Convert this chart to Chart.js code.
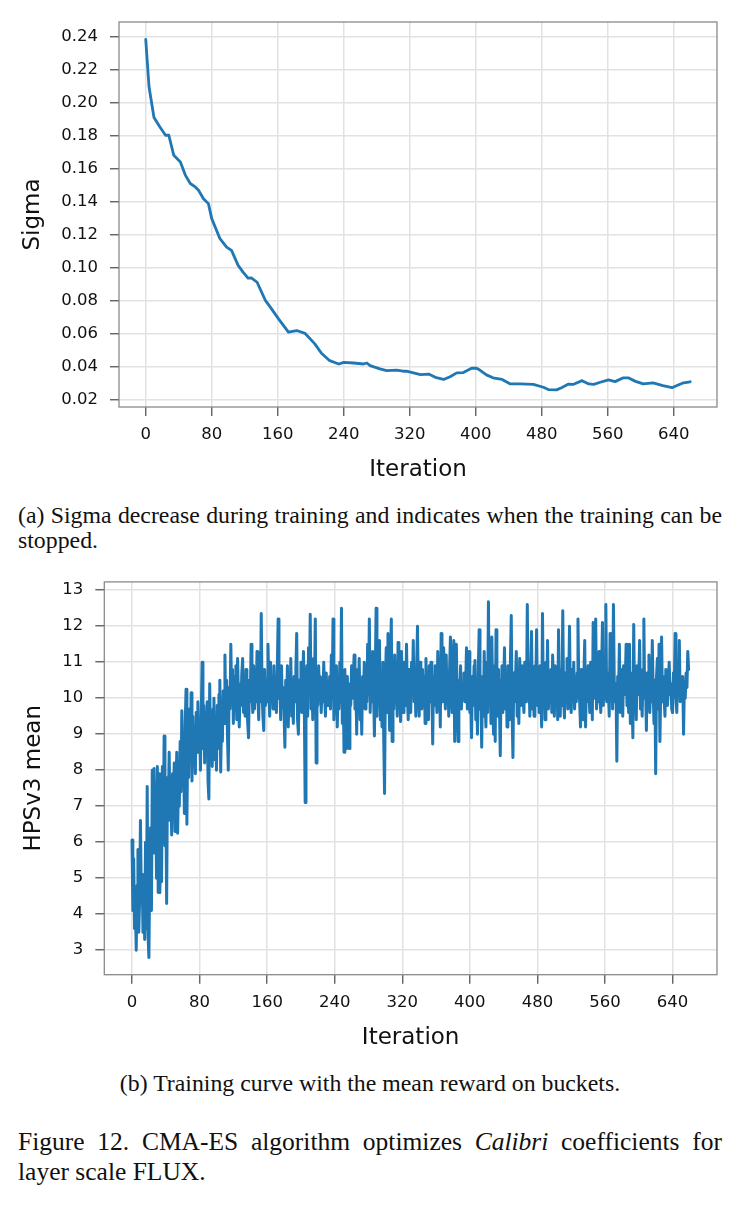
<!DOCTYPE html>
<html>
<head>
<meta charset="utf-8">
<script src="https://cdn.jsdelivr.net/npm/chart.js@4.4.1/dist/chart.umd.min.js"></script>
<style>
  html, body { margin:0; padding:0; background:#fff; }
  body { width:740px; height:1205px; position:relative; overflow:hidden; }
  canvas { position:absolute; left:0; }
  .cap { position:absolute; font-family:"Liberation Serif","Times New Roman",serif; color:#111; white-space:nowrap; }
  .just { text-align:justify; text-align-last:justify; }
</style>
</head>
<body>
<canvas id="c1" width="740" height="495" style="top:0px"></canvas>
<canvas id="c2" width="740" height="500" style="top:560px"></canvas>

<div class="cap just" style="left:18px; top:501px; width:704px; font-size:23.8px; line-height:28px;">(a) Sigma decrease during training and indicates when the training can be</div>
<div class="cap" style="left:18px; top:526px; font-size:23.8px; line-height:28px;">stopped.</div>
<div class="cap" style="left:0px; width:740px; text-align:center; top:1069px; font-size:23.8px; line-height:28px;">(b) Training curve with the mean reward on buckets.</div>
<div class="cap just" style="left:18px; top:1127px; width:704px; font-size:25.5px; line-height:30px;">Figure 12. CMA-ES algorithm optimizes <i>Calibri</i> coefficients for</div>
<div class="cap" style="left:18px; top:1157px; font-size:25.5px; line-height:30px;">layer scale FLUX.</div>

<script>
// ---------- data ----------
const iterTicks = [0, 80, 160, 240, 320, 400, 480, 560, 640];
const sigmaTicks = [0.02, 0.04, 0.06, 0.08, 0.10, 0.12, 0.14, 0.16, 0.18, 0.20, 0.22, 0.24];
const hpsTicks = [3, 4, 5, 6, 7, 8, 9, 10, 11, 12, 13];

const sigmaIter = [0,4,10,17,24,28,34,42,48,54,60,64,70,76,80,90,98,104,112,118,124,128,135,145,151,161,173,183,193,205,213,223,234,240,252,264,268,272,284,292,304,312,316,333,343,351,361,369,377,385,395,401,405,413,421,432,442,454,470,482,488,498,504,512,518,529,537,543,551,561,569,579,585,593,603,615,627,638,644,652,660];
const sigmaValues = [0.2384,0.2096,0.191,0.1853,0.1802,0.1802,0.168,0.164,0.156,0.1509,0.1488,0.1468,0.1417,0.1387,0.1296,0.1174,0.1123,0.1103,0.1012,0.0971,0.0935,0.0937,0.091,0.080,0.0759,0.0688,0.0607,0.0617,0.060,0.0536,0.0479,0.0434,0.0414,0.0424,0.042,0.0414,0.042,0.0404,0.0384,0.0374,0.0377,0.037,0.037,0.035,0.0353,0.0333,0.032,0.0337,0.036,0.0362,0.0388,0.0388,0.0377,0.0348,0.033,0.032,0.0293,0.0293,0.029,0.0273,0.0259,0.0257,0.027,0.0291,0.029,0.0313,0.0293,0.029,0.0303,0.0318,0.0307,0.033,0.033,0.031,0.0293,0.0299,0.0283,0.027,0.0283,0.030,0.0306];

// HPSv3 mean per iteration (0..659)
const hpsValues = [
6.06,4.1,5.55,3.6,4.2,3.0,4.8,5.8,3.5,4.4,6.6,4.5,5.1,3.5,5.0,3.3,6.0,3.6,7.55,3.4,
2.8,5.2,6.4,4.1,8.0,5.7,8.05,6.2,7.6,5.0,8.1,4.6,7.9,4.6,7.0,4.9,8.1,6.0,8.95,5.9,
7.6,4.3,7.8,6.9,8.5,6.6,7.4,6.2,7.9,6.8,8.2,6.3,7.5,8.5,6.25,7.7,7.0,8.8,7.4,9.65,
7.9,8.9,6.8,9.3,10.25,6.5,9.0,7.8,9.7,8.3,10.15,7.7,9.5,8.2,9.0,7.9,9.6,8.5,9.9,8.8,
9.3,8.0,9.5,11.0,8.6,9.8,8.2,9.6,8.9,9.9,7.7,7.2,10.4,8.4,9.5,8.1,9.7,10.0,8.3,9.2,
8.0,9.8,8.6,10.1,10.5,7.95,9.4,8.8,10.2,9.3,11.2,9.6,10.5,9.0,8.0,10.3,9.7,11.5,9.9,10.8,
9.3,10.6,9.7,10.9,9.4,11.1,10.0,9.2,10.4,9.8,10.7,11.1,9.6,10.3,9.5,10.8,10.0,9.3,8.9,10.5,
9.9,11.5,10.2,9.6,10.9,9.7,10.4,9.9,11.3,10.1,9.4,10.6,9.9,12.35,10.2,9.5,9.1,10.8,9.8,10.5,
9.9,11.5,10.3,9.5,11.0,10.0,10.6,9.7,10.9,9.9,10.4,9.6,10.8,12.2,10.0,10.6,9.4,10.9,9.8,10.3,
9.6,8.64,10.5,9.7,10.9,9.2,10.4,9.8,11.1,9.5,10.2,9.3,10.6,9.9,10.8,11.8,9.4,9.0,10.5,9.9,
11.0,9.6,10.3,11.3,9.8,7.1,10.2,10.9,9.5,11.4,10.1,12.33,9.7,10.6,9.4,11.1,10.2,12.2,8.2,10.5,
9.8,10.9,10.1,10.6,9.6,10.3,9.9,11.0,10.2,9.5,10.7,9.8,10.4,9.9,10.6,9.7,11.2,10.0,12.2,9.4,
10.5,9.6,10.9,9.2,10.3,9.7,11.0,9.9,12.5,9.3,10.4,8.5,10.8,9.5,8.6,10.6,9.0,8.6,10.4,9.8,
10.9,10.0,10.6,11.2,9.7,10.5,9.0,10.8,10.1,11.1,9.4,10.3,9.0,10.6,10.0,11.0,9.7,10.4,9.9,11.5,
10.1,12.2,9.6,10.8,9.9,11.3,10.2,8.95,10.7,12.5,9.5,10.9,10.0,11.6,9.4,10.6,9.2,11.0,8.9,7.35,
10.5,11.4,9.6,11.8,10.3,9.1,11.0,12.2,8.8,10.6,9.7,11.2,10.0,10.7,9.5,11.55,9.9,10.4,9.35,11.3,
10.2,9.6,11.0,10.5,9.8,11.5,10.1,9.4,10.8,10.3,9.6,11.0,10.2,11.6,9.9,10.6,9.5,10.9,12.0,10.2,
9.5,11.0,10.4,9.7,10.8,10.1,10.6,9.3,11.1,10.0,10.5,9.4,10.9,9.9,11.0,10.3,8.73,10.6,9.8,10.9,
10.2,9.6,11.3,10.0,10.5,9.2,11.8,10.1,9.9,11.4,10.4,9.7,11.2,10.0,10.6,9.5,10.8,11.7,10.2,9.6,
11.0,11.6,8.8,10.7,11.5,9.8,8.8,10.5,10.0,10.9,9.7,10.4,10.1,10.7,9.9,10.3,11.4,9.7,10.5,11.3,
9.6,10.2,8.9,10.6,9.8,10.9,11.05,9.4,10.3,9.0,10.8,11.9,9.7,10.4,8.64,10.6,9.5,11.3,10.0,9.2,
11.0,9.6,12.68,9.9,10.7,9.3,11.7,10.1,9.0,10.9,8.8,11.9,10.2,9.5,10.8,9.8,8.4,10.5,10.9,9.6,
10.3,11.4,9.7,10.6,9.2,10.9,10.0,9.4,11.0,12.3,9.6,8.35,10.7,9.9,10.5,11.3,9.5,10.2,9.3,11.1,
10.4,9.8,10.9,10.1,9.6,11.0,10.3,9.9,12.6,10.0,10.6,9.5,10.8,11.85,9.7,10.3,9.5,10.9,10.2,11.9,
9.8,10.5,9.6,10.9,10.0,9.2,12.35,9.9,10.6,9.4,11.0,10.2,11.6,9.7,10.5,10.1,10.8,9.6,11.2,10.3,
9.5,10.9,10.0,10.6,9.4,11.9,10.2,9.5,10.8,9.8,12.43,10.0,9.45,10.7,10.2,11.1,9.7,10.5,12.0,9.9,
9.6,10.8,10.1,11.0,9.7,10.4,9.9,10.7,12.2,10.3,9.9,9.2,10.8,10.1,9.4,10.6,11.6,9.2,10.5,9.9,
10.9,10.2,9.6,11.0,10.3,9.4,12.1,10.0,10.6,12.2,9.7,10.4,9.9,11.3,10.1,9.6,10.8,12.1,9.8,10.5,
10.0,12.6,9.9,10.7,10.2,9.5,11.8,10.0,10.6,9.7,12.6,10.3,9.9,10.4,8.25,10.6,10.0,11.5,9.6,10.8,
10.2,9.5,10.9,10.1,10.5,11.5,9.8,10.4,9.6,11.5,9.3,10.7,10.0,8.9,12.05,9.8,10.5,9.4,10.9,10.1,
10.6,11.6,9.7,10.3,9.5,10.8,12.2,10.0,10.4,9.1,10.7,10.1,11.2,9.6,10.4,9.9,11.6,10.2,9.3,10.5,
7.9,10.6,11.1,9.7,11.5,8.8,10.3,11.7,9.9,10.6,10.0,9.5,10.8,10.2,9.8,10.5,11.0,10.1,10.4,9.7,
9.6,10.7,10.2,11.8,10.0,9.6,10.9,10.3,11.6,9.9,10.5,10.1,10.6,9.0,10.4,10.0,10.7,10.3,11.3,10.8
];

// ---------- styling helpers ----------
const LINE = '#1f77b4';
const TICKFONT = { family: 'DejaVu Sans', size: 16.5 };
const TITLEFONT = { family: 'DejaVu Sans', size: 23, lineHeight: 1.2 };

const framePlugin = {
  id: 'frame',
  afterDraw(chart) {
    const { ctx, chartArea: a } = chart;
    ctx.save();
    ctx.strokeStyle = '#8a8a8a';
    ctx.lineWidth = 1.3;
    ctx.strokeRect(a.left, a.top, a.right - a.left, a.bottom - a.top);
    ctx.restore();
  }
};

function axisCommon() {
  return {
    grid: { color: '#e2e2e2', lineWidth: 1.5, drawTicks: true, tickLength: 9, tickColor: '#555', tickWidth: 1.3 },
    border: { display: false },
  };
}

function makeChart(id, points, cfg) {
  return new Chart(document.getElementById(id), {
    type: 'line',
    data: { datasets: [{ data: points, borderColor: LINE, borderWidth: cfg.lw, pointRadius: 0, tension: 0, fill: false, borderJoinStyle: 'round', borderCapStyle: 'round' }] },
    options: {
      responsive: false, animation: false, devicePixelRatio: 1,
      parsing: { xAxisKey: 'x', yAxisKey: 'y' },
      layout: { padding: cfg.pad },
      plugins: { legend: { display: false }, tooltip: { enabled: false } },
      scales: {
        x: Object.assign(axisCommon(), {
          type: 'linear', min: cfg.xmin, max: cfg.xmax,
          afterBuildTicks: s => { s.ticks = iterTicks.map(v => ({ value: v })); },
          afterFit: s => { s.height = cfg.xh; },
          ticks: { font: TICKFONT, color: '#111', padding: 9, maxRotation: 0, autoSkip: false },
          title: { display: true, text: 'Iteration', font: TITLEFONT, color: '#111', padding: 0 }
        }),
        y: Object.assign(axisCommon(), {
          type: 'linear', min: cfg.ymin, max: cfg.ymax,
          afterBuildTicks: s => { s.ticks = cfg.yticks.map(v => ({ value: v })); },
          afterFit: s => { s.width = cfg.yw; },
          ticks: { font: TICKFONT, color: '#111', padding: 12, autoSkip: false, callback: cfg.yfmt },
          title: { display: true, text: cfg.ytitle, font: TITLEFONT, color: '#111', padding: 0 }
        })
      }
    },
    plugins: [framePlugin]
  });
}

makeChart('c1', sigmaIter.map((x, i) => ({ x, y: sigmaValues[i] })), {
  lw: 2.8, pad: { left: 19, top: 22, right: 23, bottom: 11 },
  xmin: -32.4, xmax: 692.5, xh: 77, yw: 100,
  ymin: 0.0153, ymax: 0.2489, yticks: sigmaTicks,
  yfmt: v => Number(v).toFixed(2), ytitle: 'Sigma'
});

makeChart('c2', hpsValues.map((y, i) => ({ x: i, y })), {
  lw: 3, pad: { left: 20, top: 21, right: 23, bottom: 7.7 },
  xmin: -32.8, xmax: 692.6, xh: 77.6, yw: 84.3,
  ymin: 2.32, ymax: 13.23, yticks: hpsTicks,
  yfmt: v => String(v), ytitle: 'HPSv3 mean'
});
</script>
</body>
</html>
